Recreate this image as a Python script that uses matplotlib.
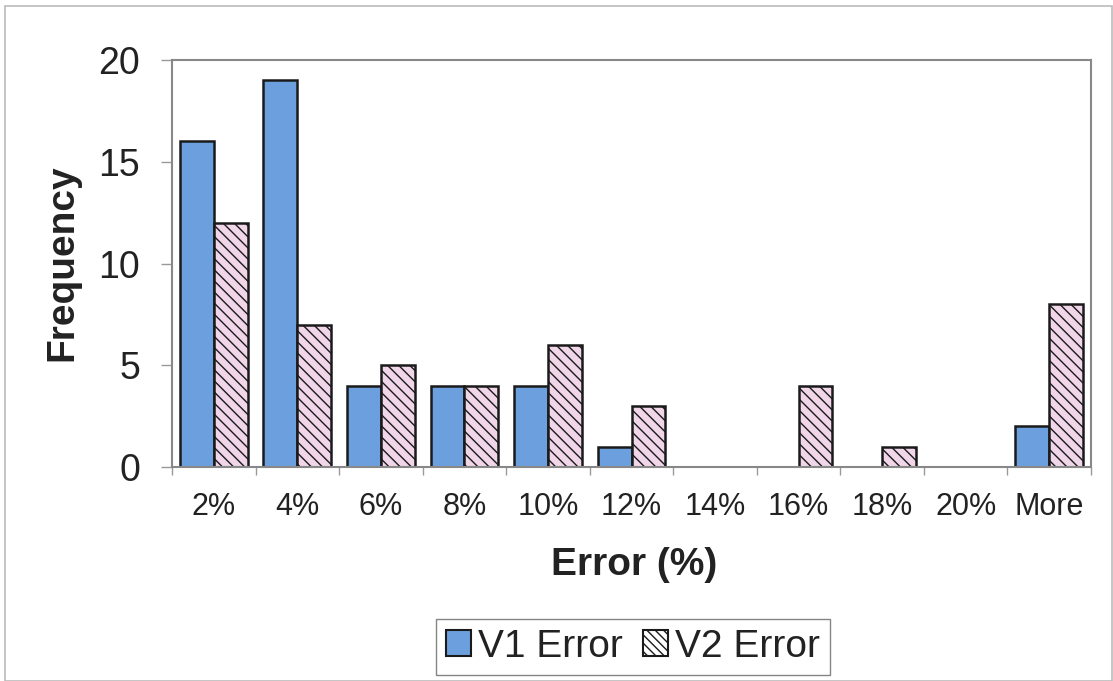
import matplotlib
matplotlib.use("Agg")
import matplotlib.pyplot as plt
from matplotlib.patches import Rectangle, Patch
import numpy as np

plt.rcParams['font.family'] = ['Liberation Sans', 'DejaVu Sans']
plt.rcParams['hatch.linewidth'] = 1.0
plt.rcParams['hatch.color'] = '#7e4f74'

categories = ['2%', '4%', '6%', '8%', '10%', '12%', '14%', '16%', '18%', '20%', 'More']
v1_error = [16, 19, 4, 4, 4, 1, 0, 0, 0, 0, 2]
v2_error = [12, 7, 5, 4, 6, 3, 0, 4, 1, 0, 8]

W, H = 1113, 681
fig = plt.figure(figsize=(W / 100, H / 100), dpi=100)
ax = fig.add_axes([172 / W, 1 - 467 / H, (1091 - 172) / W, (467 - 60) / H])

x = np.arange(len(categories))
bw = 0.405
blue = '#6b9fde'
pink = '#f0d6e8'

ax.bar(x - bw / 2, v1_error, width=bw, color=blue, edgecolor='#1a1a1a',
       linewidth=1.8, label='V1 Error')
ax.bar(x + bw / 2, v2_error, width=bw, color=pink, edgecolor='#1a1a1a',
       linewidth=1.8, hatch='\\\\\\', label='V2 Error')

ax.set_xlim(-0.5, len(categories) - 0.5)
ax.set_ylim(0, 20)
ax.set_yticks([0, 5, 10, 15, 20])
ax.tick_params(axis='y', labelsize=27, length=8, width=1, color='#999999',
               pad=15, labelcolor='#222222')

ax.set_xticks(x)
ax.set_xticklabels(categories)
ax.tick_params(axis='x', which='major', length=0, labelsize=22, pad=18,
               labelcolor='#222222')
ax.set_xticks(np.arange(len(categories) + 1) - 0.5, minor=True)
ax.tick_params(axis='x', which='minor', length=6, width=1, color='#999999')

for side in ['top', 'right', 'left', 'bottom']:
    ax.spines[side].set_color('#888888')
    ax.spines[side].set_linewidth(1.5)

fig.text(62 / W, 1 - 263 / H, 'Frequency', rotation=90, ha='center',
         va='center', fontsize=28, fontweight='bold', color='#222222')
fig.text(634 / W, 1 - 565 / H, 'Error (%)', ha='center', va='center',
         fontsize=28, fontweight='bold', color='#222222')

handles = [Patch(facecolor=blue, edgecolor='#1a1a1a', linewidth=1.5),
           Patch(facecolor='white', edgecolor='#1a1a1a', linewidth=1.5,
                 hatch='\\\\\\\\')]
leg = fig.legend(handles, ['V1 Error', 'V2 Error'], loc='center',
                 bbox_to_anchor=(633 / W, 1 - 647 / H), ncol=2, fontsize=28,
                 frameon=True, fancybox=False, handlelength=0.64,
                 handleheight=0.64, handletextpad=0.2, columnspacing=0.5,
                 borderpad=0.25, borderaxespad=0, labelcolor='#222222')
leg.get_frame().set_edgecolor('#666666')
leg.get_frame().set_linewidth(1.0)

# outer chart border
fig.patches.append(Rectangle((5 / W, 0.0), (1112 - 5) / W, 1 - 6 / H,
                             transform=fig.transFigure, fill=False,
                             edgecolor='#bbbbbb', linewidth=1.2))

fig.savefig('out.png', dpi=100, facecolor='white')
